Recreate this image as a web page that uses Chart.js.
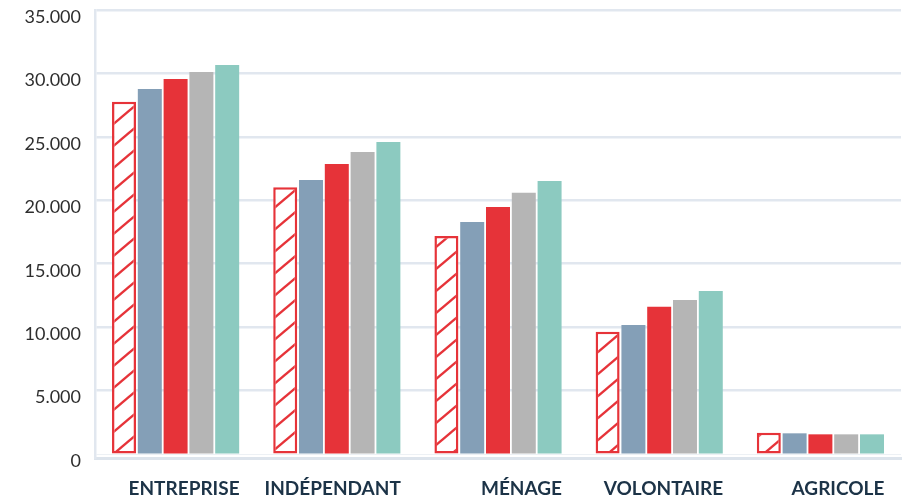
<!DOCTYPE html>
<html>
<head>
<meta charset="utf-8">
<script src="https://cdn.jsdelivr.net/npm/chart.js@4/dist/chart.umd.min.js"></script>
<style>
  html, body { margin: 0; padding: 0; background: #ffffff; overflow: hidden; }
  #wrap { width: 903px; height: 499px; }
</style>
</head>
<body>
<div id="wrap"><canvas id="chart" width="903" height="499"></canvas></div>
<script>
// Categories and series values
const categories = ['ENTREPRISE', 'INDÉPENDANT', 'MÉNAGE', 'VOLONTAIRE', 'AGRICOLE'];
const serieHachuree = [27770, 21020, 17180, 9640, 1680];
const serieBleue    = [28770, 21600, 18290, 10170, 1630];
const serieRouge    = [29560, 22860, 19470, 11610, 1550];
const serieGrise    = [30110, 23810, 20600, 12140, 1550];
const serieVerte    = [30660, 24590, 21520, 12850, 1550];
const yTickValues   = [0, 5000, 10000, 15000, 20000, 25000, 30000, 35000];

const RED = '#e63339';
const GRID = '#e1e7ef';

// Diagonal red hatching on white
function hatchPattern() {
  const w = 26, h = 22;
  const c = document.createElement('canvas');
  c.width = w; c.height = h;
  const g = c.getContext('2d');
  g.fillStyle = '#ffffff';
  g.fillRect(0, 0, w, h);
  g.strokeStyle = RED;
  g.lineWidth = 2.4;
  for (let k = 0; k <= 2; k++) {
    g.beginPath();
    g.moveTo(-2, k * h + 2 * h / w);
    g.lineTo(w + 2, k * h - (w + 2) * h / w);
    g.stroke();
  }
  return g.createPattern(c, 'repeat');
}

function thousands(v) {
  return String(v).replace(/\B(?=(\d{3})+(?!\d))/g, '.');
}

const barCommon = { categoryPercentage: 0.8, barPercentage: 0.93, borderWidth: 0 };

new Chart(document.getElementById('chart'), {
  type: 'bar',
  data: {
    labels: categories,
    datasets: [
      Object.assign({}, barCommon, { label: 'Série 1', data: serieHachuree, backgroundColor: hatchPattern(), borderColor: RED, borderWidth: 2.5, borderSkipped: false }),
      Object.assign({}, barCommon, { label: 'Série 2', data: serieBleue, backgroundColor: '#849fb7' }),
      Object.assign({}, barCommon, { label: 'Série 3', data: serieRouge, backgroundColor: RED }),
      Object.assign({}, barCommon, { label: 'Série 4', data: serieGrise, backgroundColor: '#b5b5b5' }),
      Object.assign({}, barCommon, { label: 'Série 5', data: serieVerte, backgroundColor: '#8ccac0' })
    ]
  },
  options: {
    responsive: false,
    animation: false,
    devicePixelRatio: 1,
    layout: { padding: { top: 10, right: 2, left: 0, bottom: 0 } },
    plugins: { legend: { display: false }, tooltip: { enabled: false } },
    scales: {
      x: {
        type: 'category',
        grid: { display: true, drawOnChartArea: false, drawTicks: false },
        border: { display: true, color: '#dde4ec', width: 3 },
        ticks: {
          align: 'end',
          labelOffset: 64,
          padding: 19,
          maxRotation: 0,
          color: '#1c3347',
          font: { family: 'Lato', size: 19, weight: 'bold' }
        },
        afterFit(scale) {
          scale.height = 41;
          scale.paddingLeft = 0; scale.paddingRight = 0;
          scale.paddingTop = 0; scale.paddingBottom = 0;
        }
      },
      y: {
        type: 'linear',
        min: -315,
        max: 35000,
        afterBuildTicks(scale) {
          scale.ticks = yTickValues.map(v => ({ value: v }));
        },
        grid: {
          drawTicks: false,
          color: ctx => (ctx.tick && ctx.tick.value === 0) ? '#edf1f5' : GRID,
          lineWidth: ctx => (ctx.tick && ctx.tick.value === 0) ? 1 : 2.5
        },
        border: { display: true, color: GRID, width: 2.5 },
        ticks: {
          padding: 14,
          labelOffset: 7,
          color: '#2e2e2e',
          font: { family: 'Lato', size: 18 },
          callback: v => thousands(v)
        },
        afterFit(scale) {
          scale.width = 95;
          scale.paddingTop = 0; scale.paddingBottom = 0;
          scale.paddingLeft = 0; scale.paddingRight = 0;
        }
      }
    }
  }
});
</script>
</body>
</html>
